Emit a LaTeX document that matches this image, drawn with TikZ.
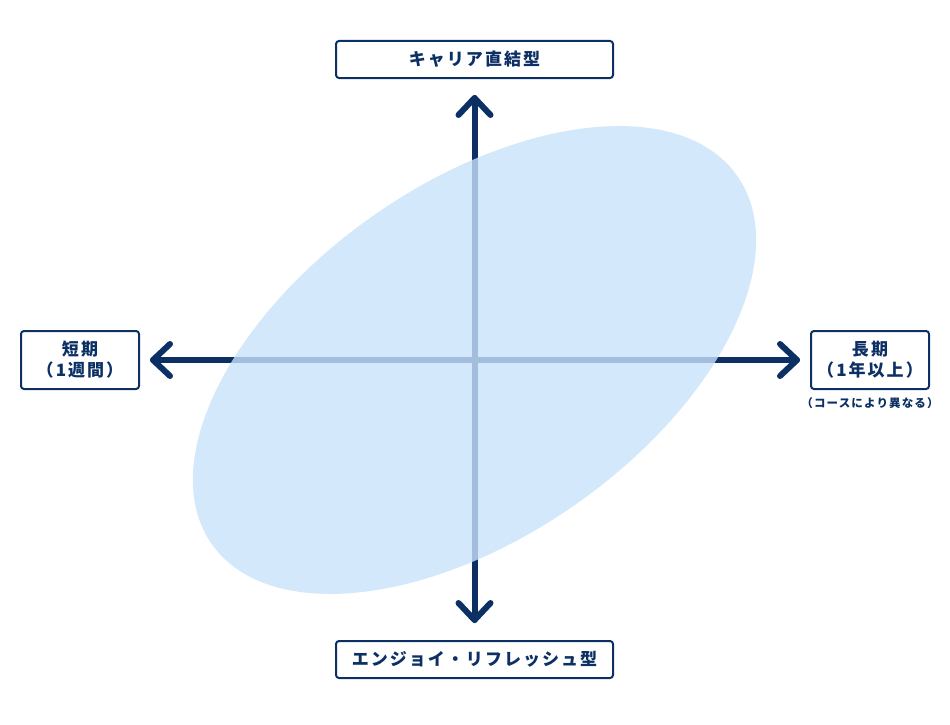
\documentclass[tikz,border=0pt]{standalone}
\usepackage{fontspec}
\newfontfamily\jp{Noto Sans CJK JP}[LetterSpace=12]
\newfontfamily\jpsmall{Noto Sans CJK JP}[LetterSpace=10]
\definecolor{navy}{RGB}{12,48,100}
\definecolor{ell}{RGB}{200,226,250}
\begin{document}
\begin{tikzpicture}[x=1pt,y=-1pt,
  lbox/.style={draw=navy, line width=2pt, fill=white, rounded corners=3pt, inner sep=0pt, align=center, text=navy, font=\jp\bfseries\fontsize{17}{21}\selectfont},
  axis/.style={draw=navy, line width=6pt, line cap=round, line join=round}]
\useasboundingbox (0,0) rectangle (950,725);
% boxes
\node[lbox, minimum width=277pt, minimum height=37pt] (top) at (474.5,59.5) {キャリア直結型};
\node[lbox, minimum width=277pt, minimum height=37pt] (bot) at (474.5,659.5) {エンジョイ・リフレッシュ型};
\node[lbox, minimum width=118pt, minimum height=58pt] (left) at (80,360) {短期\\（1週間）};
\node[lbox, minimum width=118pt, minimum height=58pt] (right) at (870,360) {長期\\（1年以上）};
\node[text=navy, font=\jpsmall\bfseries\fontsize{11.5}{13}\selectfont, inner sep=0pt] (note) at (870,403) {（コースにより異なる）};
% axes
\coordinate (c) at (474.5,360);
\coordinate (vt) at (474.5,98);
\coordinate (vb) at (474.5,620);
\coordinate (hl) at (153,360);
\coordinate (hr) at (797,360);
\draw[axis] (vt) -- (vb);
\draw[axis] (hl) -- (hr);
\draw[axis] (vt) ++(-16,17) -- (vt) -- ++(16,17);
\draw[axis] (vb) ++(-16,-17) -- (vb) -- ++(16,-17);
\draw[axis] (hl) ++(17,-16) -- (hl) -- ++(17,16);
\draw[axis] (hr) ++(-17,-16) -- (hr) -- ++(-17,16);
% ellipse
\fill[ell, fill opacity=0.8, rotate around={35:(c)}] (c) ellipse [x radius=320.8, y radius=176.3];
\end{tikzpicture}
\end{document}
